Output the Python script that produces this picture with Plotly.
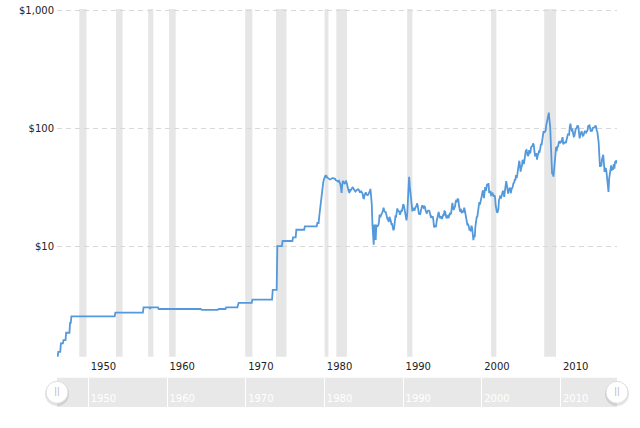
import pandas as pd
import plotly.graph_objects as go

# ---------------- data ----------------
# early period: step changes (posted prices), listed explicitly
early_dates = ["1946-01", "1946-02", "1946-03", "1946-06", "1946-07", "1946-10", "1946-11",
               "1947-02", "1947-03", "1947-08", "1947-09", "1947-10", "1947-11",
               "1953-05", "1953-06", "1956-12", "1957-01", "1957-10", "1957-11", "1957-12",
               "1958-11", "1958-12", "1964-04", "1964-06", "1966-06", "1966-08", "1967-06",
               "1967-07", "1968-12", "1969-02", "1970-10", "1970-11", "1973-05", "1973-06",
               "1973-12", "1974-01", "1974-08", "1974-09", "1975-12", "1976-01", "1976-05",
               "1976-06", "1977-06", "1977-07", "1978-12"]
early_prices = [1.17, 1.17, 1.29, 1.29, 1.52, 1.52, 1.62,
                1.62, 1.87, 1.87, 2.27, 2.27, 2.57,
                2.57, 2.77, 2.77, 3.07, 3.07, 2.97, 3.07,
                3.07, 2.97, 2.97, 2.92, 2.92, 2.97, 2.97,
                3.07, 3.07, 3.35, 3.35, 3.56, 3.56, 4.31,
                4.31, 10.11, 10.11, 11.16, 11.16, 12.00, 12.00,
                13.90, 13.90, 14.85, 14.85]

# monthly prices from January 1979
monthly_start = "1979-01"
monthly_prices = [
    14.85, 15.85, 15.85, 15.85, 18.10, 20.25, 24.00, 28.00, 30.50, 33.00, 35.00, 37.00,  # 1979
    39.50, 39.50, 39.00, 39.50, 38.50, 38.00, 38.00, 37.50, 37.00, 37.00, 37.50, 38.00,  # 1980
    38.00, 38.00, 38.00, 38.00, 37.50, 36.50, 36.00, 36.00, 36.00, 35.50, 36.00, 35.00,  # 1981
    33.85, 31.56, 28.48, 33.45, 35.93, 35.07, 34.16, 33.95, 35.63, 35.68, 34.15, 31.72,  # 1982
    31.18, 29.00, 28.82, 30.61, 30.00, 31.00, 31.66, 31.90, 31.07, 30.36, 29.13, 29.30,  # 1983
    29.70, 30.10, 30.80, 30.60, 30.50, 29.80, 28.60, 29.30, 29.30, 28.75, 28.10, 25.80,  # 1984
    25.60, 27.30, 28.30, 28.80, 27.60, 27.10, 27.30, 27.80, 28.30, 29.50, 30.80, 27.20,  # 1985
    22.90, 15.40, 12.60, 10.40, 15.40, 13.50, 11.40, 15.10, 14.90, 14.90, 15.20, 16.10,  # 1986
    18.65, 17.75, 18.30, 18.68, 19.44, 20.07, 21.34, 20.31, 19.53, 19.86, 18.85, 17.28,  # 1987
    17.13, 16.80, 16.20, 17.86, 17.42, 16.53, 15.50, 15.52, 14.54, 13.77, 14.14, 16.38,  # 1988
    18.02, 17.94, 19.48, 21.07, 20.12, 20.05, 19.78, 18.58, 19.59, 20.10, 19.86, 21.10,  # 1989
    22.86, 22.11, 20.39, 18.43, 18.20, 16.70, 18.45, 27.31, 33.51, 39.00, 32.33, 27.28,  # 1990
    25.23, 20.48, 19.90, 20.83, 21.23, 20.19, 21.40, 21.69, 21.89, 23.23, 22.46, 19.50,  # 1991
    18.79, 19.01, 18.92, 20.23, 20.98, 22.39, 21.78, 21.34, 21.88, 21.69, 20.34, 19.41,  # 1992
    19.03, 20.09, 20.32, 20.25, 19.95, 19.09, 17.89, 18.01, 17.50, 18.15, 16.61, 14.52,  # 1993
    15.03, 14.78, 14.68, 16.42, 17.89, 19.06, 19.66, 18.38, 17.45, 17.72, 18.07, 17.16,  # 1994
    18.04, 18.57, 18.54, 19.90, 19.74, 18.45, 17.33, 18.02, 18.23, 17.43, 17.99, 19.03,  # 1995
    18.85, 19.09, 21.33, 23.50, 21.17, 20.42, 21.30, 21.90, 23.97, 24.88, 23.71, 25.23,  # 1996
    25.13, 22.18, 20.97, 19.70, 20.82, 19.26, 19.66, 19.95, 19.80, 21.33, 20.19, 18.33,  # 1997
    16.72, 16.06, 15.12, 15.35, 14.91, 13.72, 14.17, 13.47, 15.03, 14.46, 13.00, 11.35,  # 1998
    12.52, 12.01, 14.68, 17.31, 17.72, 17.92, 20.10, 21.28, 23.80, 22.69, 25.00, 26.10,  # 1999
    27.26, 29.37, 29.84, 25.72, 28.79, 31.82, 29.70, 31.26, 33.88, 33.11, 34.42, 28.44,  # 2000
    29.59, 29.61, 27.25, 27.49, 28.63, 27.60, 26.43, 27.37, 26.20, 22.17, 19.64, 19.39,  # 2001
    19.72, 20.72, 24.53, 26.18, 27.04, 25.52, 26.97, 28.39, 29.66, 28.84, 26.35, 29.46,  # 2002
    32.95, 35.83, 33.51, 28.17, 28.11, 30.66, 30.75, 31.57, 28.31, 30.34, 31.11, 32.13,  # 2003
    34.31, 34.69, 36.74, 36.75, 40.28, 38.03, 40.78, 44.90, 45.94, 53.28, 48.47, 43.15,  # 2004
    46.84, 48.15, 54.19, 52.98, 49.83, 56.35, 59.00, 64.99, 65.59, 62.26, 58.32, 59.41,  # 2005
    65.49, 61.63, 62.69, 69.44, 70.84, 70.95, 74.41, 73.04, 63.80, 58.89, 59.08, 61.96,  # 2006
    54.51, 59.28, 60.44, 63.98, 63.45, 67.49, 74.12, 72.36, 79.92, 85.80, 94.77, 91.69,  # 2007
    92.97, 95.39, 105.45, 112.58, 125.40, 133.88, 136.00, 116.67, 104.11, 76.61, 57.31, 41.12,  # 2008
    41.71, 39.09, 47.94, 49.65, 59.03, 69.64, 64.15, 71.05, 69.41, 75.72, 77.99, 74.47,  # 2009
    78.33, 76.39, 81.20, 84.29, 73.74, 75.34, 76.32, 76.60, 75.24, 81.89, 84.25, 89.15,  # 2010
    89.17, 88.58, 102.86, 109.53, 100.90, 96.26, 97.30, 86.33, 85.52, 86.32, 97.16, 98.56,  # 2011
    100.27, 102.20, 106.16, 103.32, 94.66, 82.30, 87.90, 94.13, 94.51, 89.49, 86.53, 87.86,  # 2012
    94.76, 95.31, 92.94, 92.02, 94.51, 95.77, 104.67, 106.57, 106.29, 100.54, 93.86, 97.63,  # 2013
    94.62, 100.82, 100.80, 102.07, 102.18, 105.79, 103.59, 96.54, 93.21, 84.40, 75.79, 59.29,  # 2014
    47.22, 50.58, 47.82, 54.45, 59.27, 59.82, 50.90, 42.87, 45.48, 46.22, 42.44, 37.19,  # 2015
    31.68, 29.00, 37.55, 40.75, 46.71, 48.76, 44.65, 44.72, 45.18, 49.78, 45.66, 51.97,  # 2016
    52.50, 53.47, 50.50,                                                                  # 2017
]

# US recessions (shaded bars)
recession_starts = ["1948-11", "1953-07", "1957-08", "1960-04", "1969-12", "1973-11",
                    "1980-01", "1981-07", "1990-07", "2001-03", "2007-12"]
recession_ends = ["1949-10", "1954-05", "1958-04", "1961-02", "1970-11", "1975-03",
                  "1980-07", "1982-11", "1991-03", "2001-11", "2009-06"]

x_tick_years = [1950, 1960, 1970, 1980, 1990, 2000, 2010]
y_tick_values = [10, 100, 1000]
y_tick_labels = ["$10", "$100", "$1,000"]

# ---------------- build ----------------
monthly_dates = pd.date_range(monthly_start, periods=len(monthly_prices), freq="MS")
dates = list(pd.to_datetime(early_dates)) + list(monthly_dates)
prices = early_prices + monthly_prices
x_range = [dates[0], dates[-1]]
x_ticks = [pd.Timestamp(f"{y}-01-01") for y in x_tick_years]

FONT = "DejaVu Sans"
LINE_COLOR = "#5399dc"

fig = go.Figure()
fig.add_trace(go.Scatter(
    x=dates, y=prices, mode="lines",
    line=dict(color=LINE_COLOR, width=1.8),
    xaxis="x", yaxis="y", hoverinfo="skip", showlegend=False,
))

# navigator handles (at both ends of the data range)
fig.add_trace(go.Scatter(
    x=[dates[0], dates[-1]], y=[0.44, 0.44], mode="markers",
    marker=dict(size=24, color="rgba(0,0,0,0.10)", line=dict(width=0)),
    xaxis="x2", yaxis="y2", cliponaxis=False, hoverinfo="skip", showlegend=False,
))
fig.add_trace(go.Scatter(
    x=[dates[0], dates[-1]], y=[0.5, 0.5], mode="markers+text",
    text=["||", "||"], textposition="middle center",
    textfont=dict(family=FONT, size=8, color="#b0b0b0"),
    marker=dict(size=22, color="#ffffff", line=dict(width=1, color="#dddddd")),
    xaxis="x2", yaxis="y2", cliponaxis=False, hoverinfo="skip", showlegend=False,
))

shapes = []
for s, e in zip(recession_starts, recession_ends):
    shapes.append(dict(type="rect", xref="x", yref="y domain",
                       x0=pd.Timestamp(s), x1=pd.Timestamp(e), y0=0, y1=1,
                       fillcolor="#e6e6e6", line=dict(width=0), layer="below"))
# navigator band
shapes.append(dict(type="rect", xref="x2 domain", yref="y2 domain",
                   x0=0, x1=1, y0=0, y1=1, fillcolor="#e8e8e8",
                   line=dict(width=0), layer="below"))

fig.update_layout(
    width=640, height=428,
    margin=dict(l=57, r=23, t=9, b=21, autoexpand=False),
    paper_bgcolor="#ffffff", plot_bgcolor="#ffffff",
    font=dict(family=FONT, size=10, color="#333333"),
    hovermode=False,
    shapes=shapes,
    xaxis=dict(
        type="date", range=x_range, anchor="y", domain=[0, 1], automargin=False,
        tickvals=x_ticks, ticktext=[str(y) for y in x_tick_years],
        showgrid=False, zeroline=False, showline=False, ticks="",
        ticklabelshift=15, ticklabelstandoff=2,
        tickfont=dict(family=FONT, size=10, color="#222222"),
    ),
    yaxis=dict(
        type="log", range=[0.068, 3.01], domain=[0.1260, 1], anchor="x", automargin=False,
        tickvals=y_tick_values, ticktext=y_tick_labels,
        showgrid=True, gridcolor="#d8d8d8", griddash="5px,4px", gridwidth=1,
        zeroline=False, showline=False, ticks="", ticklabelstandoff=2,
        tickfont=dict(family=FONT, size=10, color="#222222"),
    ),
    xaxis2=dict(
        type="date", range=x_range, anchor="y2", domain=[0, 1], automargin=False,
        tickvals=x_ticks, ticktext=[str(y) for y in x_tick_years],
        showgrid=True, gridcolor="#ffffff", gridwidth=1,
        zeroline=False, showline=False, ticks="",
        ticklabelposition="inside", ticklabelshift=15,
        tickfont=dict(family=FONT, size=10, color="#ffffff"),
    ),
    yaxis2=dict(
        range=[0, 1], domain=[0, 0.0738], anchor="x2", automargin=False,
        visible=False, fixedrange=True,
    ),
)

fig.write_html("out.html",
               config={"displayModeBar": False, "staticPlot": True},
               post_script="document.body.style.margin='0';document.body.style.overflow='hidden';")
